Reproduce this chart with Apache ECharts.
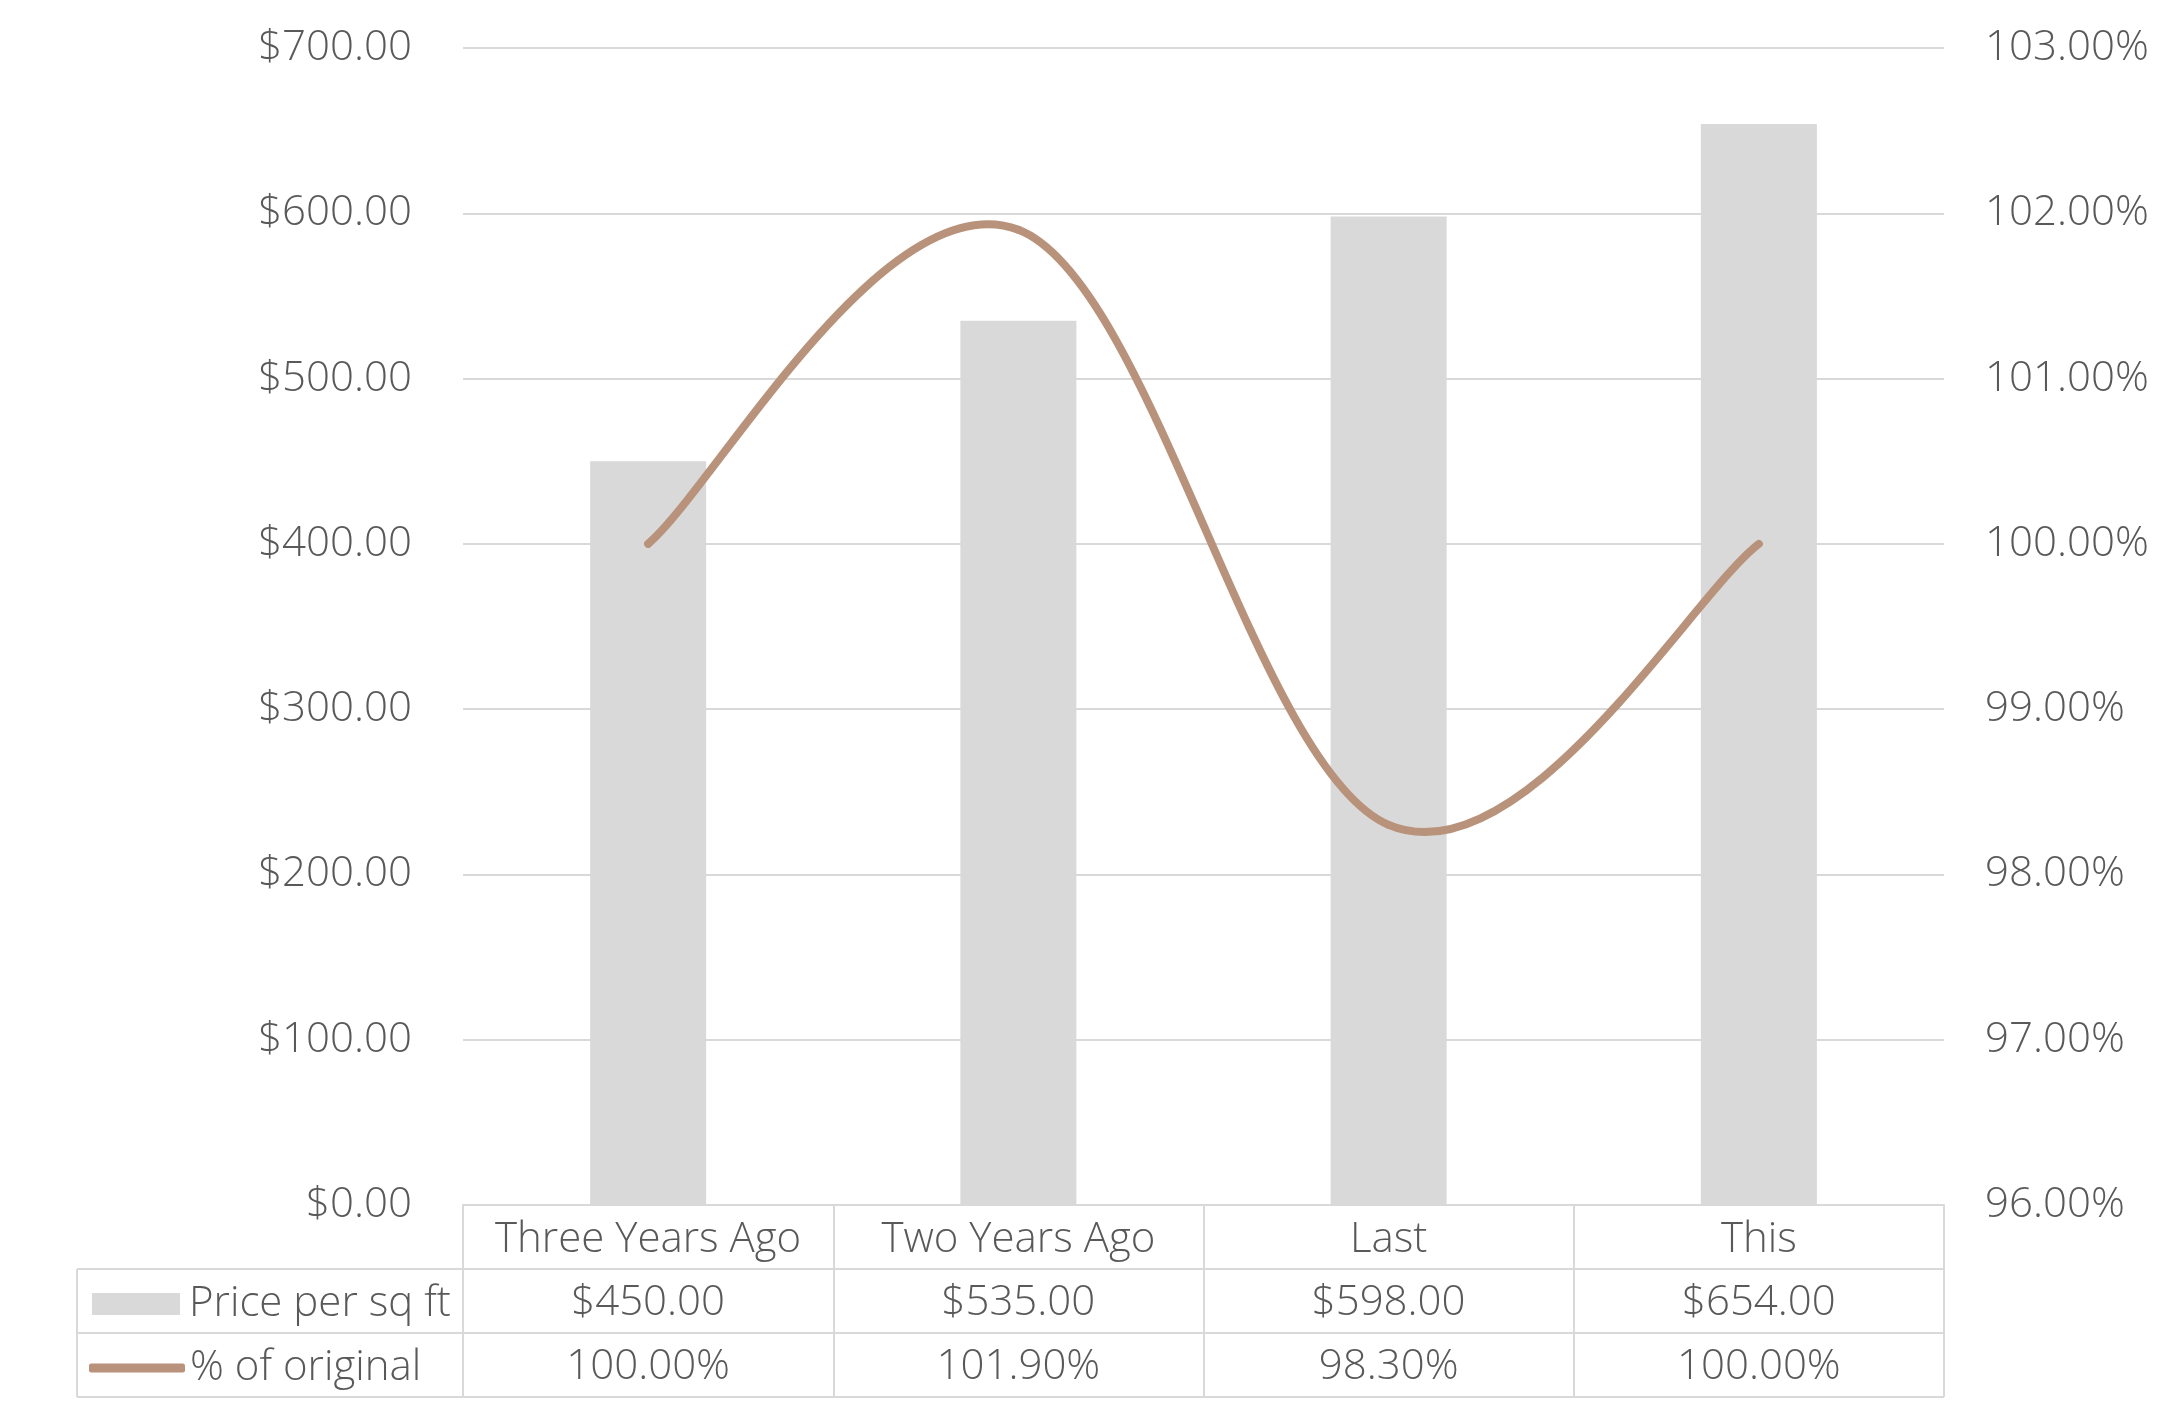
<!DOCTYPE html>
<html>
<head>
<meta charset="utf-8">
<script src="https://cdn.jsdelivr.net/npm/echarts@6/dist/echarts.min.js"></script>
<style>
html,body{margin:0;padding:0;background:#fff;}
#c{width:2166px;height:1423px;}
</style>
</head>
<body>
<div id="c"></div>
<script>
const categories = ['Three Years Ago', 'Two Years Ago', 'Last', 'This'];
const pricePerSqFt = [450, 535, 598, 654];
const pctOfOriginal = [100.00, 101.90, 98.30, 100.00];
const seriesNames = ['Price per sq ft', '% of original'];

const FONT = '"Open Sans", Lato, sans-serif';
const TXT = '#595959';
const GRIDC = '#d9d9d9';
const LINEC = '#b8927a';

const gridLeft = 463, gridRight = 222, gridTop = 48, gridBottom = 218;
const W = 2166, H = 1423;
const axisY = H - gridBottom;      // 1205
const rowH = 64;
const tableLeft = 77;
const plotRight = W - gridRight;
const TENSION = 0.18;

const chart = echarts.init(document.getElementById('c'), null, {renderer: 'canvas'});

const labelBase = {fontFamily: FONT, fontSize: 42, fontWeight: 300, color: TXT};

// Spreadsheet-style smoothed line: cubic Bezier per segment, points mapped via the axis scales
function renderSmooth(params, api) {
  const i = params.dataIndex;
  const n = pctOfOriginal.length;
  if (i >= n - 1) return null;
  const clampI = k => Math.max(0, Math.min(n - 1, k));
  const P = k => api.coord([clampI(k), pctOfOriginal[clampI(k)]]);
  const p0 = P(i - 1), p1 = P(i), p2 = P(i + 1), p3 = P(i + 2);
  const c1 = [p1[0] + TENSION * (p2[0] - p0[0]), p1[1] + TENSION * (p2[1] - p0[1])];
  const c2 = [p2[0] - TENSION * (p3[0] - p1[0]), p2[1] - TENSION * (p3[1] - p1[1])];
  return {
    type: 'bezierCurve',
    shape: {x1: p1[0], y1: p1[1], cpx1: c1[0], cpy1: c1[1], cpx2: c2[0], cpy2: c2[1], x2: p2[0], y2: p2[1]},
    style: {stroke: LINEC, lineWidth: 8, fill: null, lineCap: 'round'}
  };
}

const option = {
  backgroundColor: '#fff',
  animation: false,
  grid: {left: gridLeft, right: gridRight, top: gridTop, bottom: gridBottom},
  legend: [
    {
      data: [{name: seriesNames[0], icon: 'rect'}],
      left: 87, top: axisY + rowH + 9,
      itemWidth: 88, itemHeight: 22,
      textStyle: Object.assign({}, labelBase, {padding: [0, 0, 0, 4]}),
      selectedMode: false
    },
    {
      data: [{name: seriesNames[1], icon: 'roundRect'}],
      left: 84, top: axisY + 2 * rowH + 9,
      itemWidth: 96, itemHeight: 9,
      itemStyle: {color: LINEC},
      textStyle: Object.assign({}, labelBase, {padding: [0, 0, 0, 0]}),
      selectedMode: false
    }
  ],
  xAxis: [
    {
      type: 'category', data: categories, position: 'bottom',
      axisLine: {show: true, lineStyle: {color: GRIDC, width: 2}},
      axisTick: {show: true, length: rowH * 3, interval: 0, lineStyle: {color: GRIDC, width: 2}},
      axisLabel: Object.assign({}, labelBase, {margin: 35, verticalAlign: 'middle', interval: 0})
    },
    {
      type: 'category', data: pricePerSqFt.map(v => '$' + v.toFixed(2)), position: 'bottom', offset: rowH,
      axisLine: {show: false}, axisTick: {show: false},
      axisLabel: Object.assign({}, labelBase, {margin: 34, verticalAlign: 'middle', interval: 0})
    },
    {
      type: 'category', data: pctOfOriginal.map(v => v.toFixed(2) + '%'), position: 'bottom', offset: rowH * 2,
      axisLine: {show: false}, axisTick: {show: false},
      axisLabel: Object.assign({}, labelBase, {margin: 34, verticalAlign: 'middle', interval: 0})
    }
  ],
  yAxis: [
    {
      type: 'value', min: 0, max: 700, interval: 100,
      axisLine: {show: false}, axisTick: {show: false},
      splitLine: {show: true, lineStyle: {color: GRIDC, width: 2}},
      axisLabel: Object.assign({}, labelBase, {margin: 51, padding: [6, 0, 0, 0], formatter: v => '$' + v.toFixed(2)})
    },
    {
      type: 'value', min: 96, max: 103, interval: 1,
      axisLine: {show: false}, axisTick: {show: false},
      splitLine: {show: false},
      axisLabel: Object.assign({}, labelBase, {margin: 41, padding: [6, 0, 0, 0], formatter: v => v.toFixed(2) + '%'})
    }
  ],
  series: [
    {
      name: seriesNames[0], type: 'bar', xAxisIndex: 0, yAxisIndex: 0,
      data: pricePerSqFt, barWidth: 116,
      itemStyle: {color: '#d9d9d9'}
    },
    {
      name: seriesNames[1], type: 'custom', xAxisIndex: 0, yAxisIndex: 1,
      data: pctOfOriginal.map((v, i) => [i, v]),
      encode: {x: 0, y: 1},
      renderItem: renderSmooth,
      itemStyle: {color: LINEC},
      z: 3
    }
  ],
  graphic: [
    {type: 'line', shape: {x1: tableLeft, y1: axisY + rowH, x2: plotRight, y2: axisY + rowH}, style: {stroke: GRIDC, lineWidth: 2}},
    {type: 'line', shape: {x1: tableLeft, y1: axisY + 2 * rowH, x2: plotRight, y2: axisY + 2 * rowH}, style: {stroke: GRIDC, lineWidth: 2}},
    {type: 'line', shape: {x1: tableLeft, y1: axisY + 3 * rowH, x2: plotRight, y2: axisY + 3 * rowH}, style: {stroke: GRIDC, lineWidth: 2}},
    {type: 'line', shape: {x1: tableLeft, y1: axisY + rowH, x2: tableLeft, y2: axisY + 3 * rowH}, style: {stroke: GRIDC, lineWidth: 2}}
  ]
};
chart.setOption(option);
</script>
</body>
</html>
